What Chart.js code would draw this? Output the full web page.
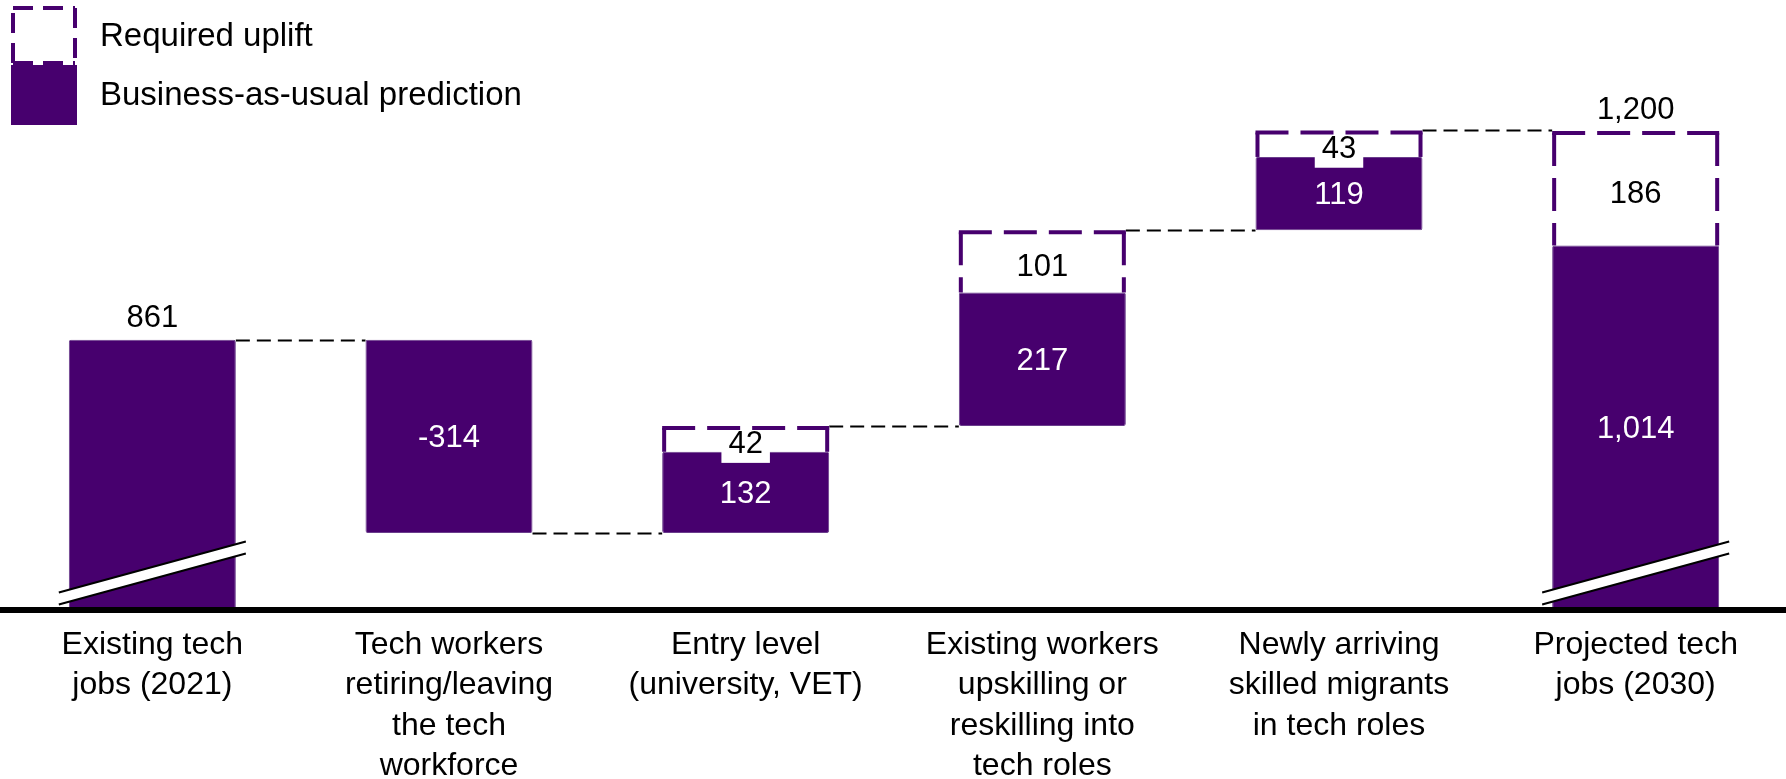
<!DOCTYPE html>
<html>
<head>
<meta charset="utf-8">
<script src="https://cdn.jsdelivr.net/npm/chart.js@4.4.0/dist/chart.umd.min.js"></script>
<style>
  html, body { margin: 0; padding: 0; background: #ffffff; }
  #wrap { width: 1786px; height: 779px; position: relative; }
</style>
</head>
<body>
<div id="wrap"><canvas id="c" width="1786" height="779"></canvas></div>
<script>
// ---------- data ----------
const categories = [
  ['Existing tech', 'jobs (2021)'],
  ['Tech workers', 'retiring/leaving', 'the tech', 'workforce'],
  ['Entry level', '(university, VET)'],
  ['Existing workers', 'upskilling or', 'reskilling into', 'tech roles'],
  ['Newly arriving', 'skilled migrants', 'in tech roles'],
  ['Projected tech', 'jobs (2030)']
];
const startTotal = 861;                               // existing tech jobs (2021)
const bauChanges = [null, -314, 132, 217, 119, null]; // business-as-usual steps
const upliftValues = [null, null, 42, 101, 43, 186];  // required uplift
const endBAU = 1014;                                  // projected BAU (2030)
const endTotal = 1200;                                // projected tech jobs (2030)
const axisMin = 422;                                  // broken axis: visible bottom value
const axisMax = 1413;
const legendLabels = ['Required uplift', 'Business-as-usual prediction'];

// ---------- build floating ranges ----------
const bauRanges = [];
const upliftRanges = [];
const levels = [];       // running total after each bar (for connectors)
const insideLabels = []; // white labels in BAU bars
const topLabels = [];    // black labels above bars
let level = startTotal;
bauRanges.push([axisMin, startTotal]);
upliftRanges.push(null);
levels.push(startTotal);
insideLabels.push(null);
topLabels.push(startTotal);
for (let i = 1; i < categories.length - 1; i++) {
  const s = level, e = s + bauChanges[i];
  bauRanges.push([Math.min(s, e), Math.max(s, e)]);
  insideLabels.push(bauChanges[i]);
  topLabels.push(null);
  level = e;
  if (upliftValues[i] != null) {
    upliftRanges.push([e, e + upliftValues[i]]);
    level = e + upliftValues[i];
  } else {
    upliftRanges.push(null);
  }
  levels.push(level);
}
bauRanges.push([axisMin, endBAU]);
upliftRanges.push([endBAU, endBAU + upliftValues[5]]);
insideLabels.push(endBAU);
topLabels.push(endTotal);
levels.push(endTotal);

// ---------- styles ----------
const PURPLE = '#47006e';
const FONT = '"Liberation Sans", Arial, Helvetica, sans-serif';
const fmt = v => v.toLocaleString('en-US');

const waterfallPlugin = {
  id: 'waterfall',
  beforeDatasetsDraw(chart) {
    const ctx = chart.ctx;
    const y = chart.scales.y;
    const bars = chart.getDatasetMeta(0).data;
    ctx.save();
    ctx.strokeStyle = '#000';
    ctx.lineWidth = 2;
    ctx.setLineDash([14, 7]);
    for (let i = 0; i < bars.length - 1; i++) {
      const a = bars[i], b = bars[i + 1];
      const yy = Math.round(y.getPixelForValue(levels[i])) + 0.5;
      ctx.beginPath();
      ctx.moveTo(a.x + a.width / 2, yy);
      ctx.lineTo(b.x - b.width / 2, yy);
      ctx.stroke();
    }
    ctx.restore();
  },
  afterDatasetsDraw(chart) {
    const ctx = chart.ctx;
    const area = chart.chartArea;
    const bau = chart.getDatasetMeta(0).data;
    const upl = chart.getDatasetMeta(1).data;
    ctx.save();
    ctx.textAlign = 'center';
    ctx.textBaseline = 'middle';
    ctx.font = '31px ' + FONT;

    // BAU inside labels
    bau.forEach((el, i) => {
      if (insideLabels[i] == null) return;
      let top = Math.min(el.y, el.base), bot = Math.max(el.y, el.base);
      bot = Math.min(bot, area.bottom);
      ctx.fillStyle = '#ffffff';
      ctx.fillText(fmt(insideLabels[i]), el.x, (top + bot) / 2 + 2);
    });

    // uplift labels with white background
    upl.forEach((el, i) => {
      if (!upliftRanges[i]) return;
      const top = Math.min(el.y, el.base), bot = Math.max(el.y, el.base);
      const cy = (top + bot) / 2 + 6;
      const txt = fmt(upliftValues[i]);
      const w = ctx.measureText(txt).width + 14;
      ctx.fillStyle = '#ffffff';
      ctx.fillRect(el.x - w / 2, cy - 20, w, 38);
      ctx.fillStyle = '#000000';
      ctx.fillText(txt, el.x, cy);
    });

    // dashed uplift boxes
    ctx.strokeStyle = PURPLE;
    ctx.lineWidth = 4;
    ctx.lineCap = 'butt';
    upl.forEach((el, i) => {
      if (!upliftRanges[i]) return;
      const top = Math.min(el.y, el.base), bot = Math.max(el.y, el.base);
      const l = el.x - el.width / 2 + 2, r = el.x + el.width / 2 - 2, t = top + 2;
      ctx.setLineDash([33, 12]);
      [[l, t, l, bot], [l - 2, t, r + 2, t], [r, t, r, bot]].forEach(p => {
        ctx.beginPath();
        ctx.moveTo(p[0], p[1]);
        ctx.lineTo(p[2], p[3]);
        ctx.stroke();
      });
    });
    ctx.setLineDash([]);

    // top labels
    ctx.fillStyle = '#000000';
    topLabels.forEach((v, i) => {
      if (v == null) return;
      const el = upliftRanges[i] ? upl[i] : bau[i];
      const top = Math.min(el.y, el.base);
      ctx.fillText(fmt(v), el.x, top - 21);
    });

    // axis break marks on bars starting at the broken axis
    const yb = area.bottom;
    bau.forEach((el, i) => {
      if (bauRanges[i][0] !== axisMin) return;
      const half = el.width / 2 + 10;
      const x1 = el.x - half, x2 = el.x + half;
      ctx.fillStyle = '#ffffff';
      ctx.beginPath();
      ctx.moveTo(x1, yb - 17.5);
      ctx.lineTo(x2, yb - 68.5);
      ctx.lineTo(x2, yb - 56.5);
      ctx.lineTo(x1, yb - 5.5);
      ctx.closePath();
      ctx.fill();
      ctx.strokeStyle = '#000';
      ctx.lineWidth = 2.2;
      ctx.beginPath();
      ctx.moveTo(x1, yb - 17.5); ctx.lineTo(x2, yb - 68.5);
      ctx.moveTo(x1, yb - 5.5); ctx.lineTo(x2, yb - 56.5);
      ctx.stroke();
    });

    // x axis line across full width
    ctx.fillStyle = '#000';
    ctx.fillRect(0, yb - 3, chart.width, 6);
    ctx.restore();
  },
  afterDraw(chart) {
    const ctx = chart.ctx;
    ctx.save();
    // dashed legend box
    ctx.strokeStyle = PURPLE;
    ctx.lineWidth = 4;
    ctx.setLineDash([20, 10]);
    const L = 13, R = 75, T = 8, B = 63;
    [[L, B, L, T], [L, T, R, T], [R, T, R, B], [L, B, R, B]].forEach(p => {
      ctx.beginPath(); ctx.moveTo(p[0], p[1]); ctx.lineTo(p[2], p[3]); ctx.stroke();
    });
    ctx.setLineDash([]);
    ctx.fillStyle = PURPLE;
    ctx.fillRect(11, 65, 66, 60);
    ctx.fillStyle = '#000';
    ctx.font = '33px ' + FONT;
    ctx.textAlign = 'left';
    ctx.textBaseline = 'middle';
    ctx.fillText(legendLabels[0], 100, 37);
    ctx.fillText(legendLabels[1], 100, 96);
    ctx.restore();
  }
};

new Chart(document.getElementById('c'), {
  type: 'bar',
  data: {
    labels: categories,
    datasets: [
      {
        label: legendLabels[1],
        data: bauRanges,
        backgroundColor: PURPLE,
        borderColor: '#6a3d8c',
        borderWidth: 1,
        borderSkipped: false,
        borderRadius: 2,
        grouped: false,
        barPercentage: 0.563,
        categoryPercentage: 1.0
      },
      {
        label: legendLabels[0],
        data: upliftRanges,
        backgroundColor: '#ffffff',
        borderWidth: 0,
        grouped: false,
        barPercentage: 0.563,
        categoryPercentage: 1.0
      }
    ]
  },
  options: {
    responsive: false,
    animation: false,
    layout: { padding: { left: 4, right: 2, top: 0, bottom: 0 } },
    plugins: { legend: { display: false }, tooltip: { enabled: false } },
    scales: {
      x: {
        grid: { display: false, drawTicks: false },
        border: { display: false },
        ticks: {
          color: '#000',
          font: { family: FONT, size: 32, lineHeight: 1.26 },
          padding: 15,
          autoSkip: false,
          maxRotation: 0
        },
        afterFit(s) { s.height = 169; }
      },
      y: { display: false, min: axisMin, max: axisMax }
    }
  },
  plugins: [waterfallPlugin]
});
</script>
</body>
</html>
